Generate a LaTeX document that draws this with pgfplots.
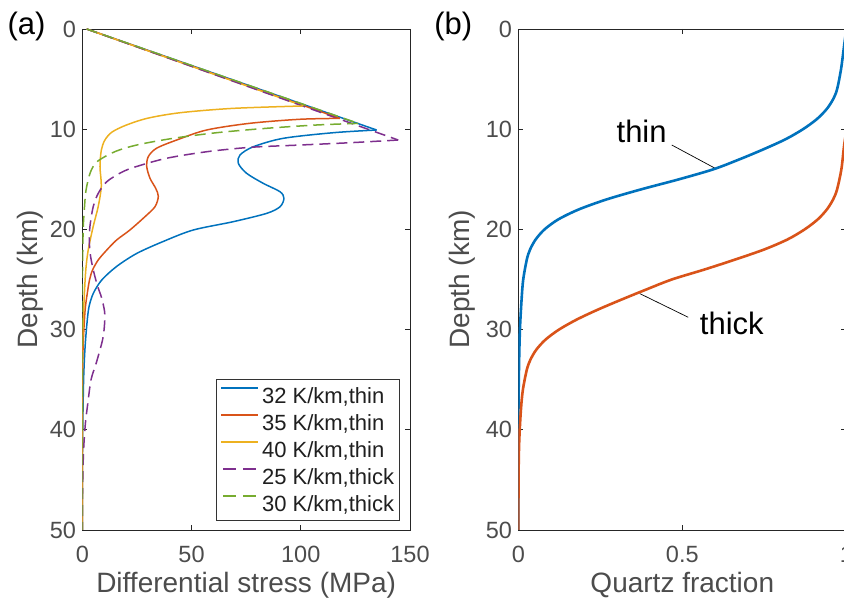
\documentclass[border=0pt]{standalone}
\usepackage{fontspec}
\setmainfont{Liberation Sans}
\usepackage{pgfplots}
\pgfplotsset{compat=1.18}

\definecolor{mblue}{rgb}{0,0.447,0.741}
\definecolor{mred}{rgb}{0.85,0.325,0.098}
\definecolor{myellow}{rgb}{0.929,0.694,0.125}
\definecolor{mpurple}{rgb}{0.494,0.184,0.556}
\definecolor{mgreen}{rgb}{0.466,0.674,0.188}
\definecolor{axgray}{gray}{0.3}

\pgfplotsset{
  panel/.style={
    scale only axis,
    anchor=south west,
    height=501pt,
    y dir=reverse,
    ymin=0, ymax=50,
    ytick={0,10,...,50},
    axis line style={black!85, line width=0.9pt},
    every tick/.style={black!85, line width=0.9pt},
    major tick length=5pt,
    tick align=inside,
    /pgf/number format/assume math mode=true,
    tick label style={font=\fontsize{23.5}{28}\selectfont, text=axgray},
    xticklabel style={anchor=base, yshift=-32.7pt},
    yticklabel style={anchor=east, xshift=-2.8pt},
    label style={font=\fontsize{28}{33}\selectfont, text=axgray},
    xlabel style={at={(axis description cs:0.5,-0.1238)}, anchor=base},
  },
  thin/.style={line width=1.5pt},
  dash/.style={line width=1.5pt, dash pattern=on 11pt off 6pt,
    legend image code/.code={\draw[##1, dash pattern=on 13pt off 7pt] (2pt,7.9pt) -- (35pt,7.9pt);}},
}

\begin{document}
\begin{tikzpicture}
\useasboundingbox (0,0) rectangle (844pt,601pt);
\clip (0,0) rectangle (844pt,601pt);

\begin{axis}[panel,
  at={(82.3pt,71pt)}, width=327.7pt,
  xmin=0, xmax=150, xtick={0,50,100,150},
  xlabel={Differential stress (MPa)},
  ylabel={Depth (km)},
  ylabel style={at={(axis description cs:-0.1596,0.5)}, anchor=center},
  legend cell align=left,
  legend image code/.code={\draw[#1] (0pt,7.9pt) -- (37pt,7.9pt);},
  legend style={at={(1,0)}, anchor=south east, xshift=-10pt, yshift=9.3pt,
    draw=black!80, line width=0.8pt, fill=white, inner sep=4.5pt,
    row sep=3pt, column sep=2pt,
    font=\fontsize{22}{26}\selectfont, text=black!88,
    nodes={inner sep=1pt, text height=19pt, text depth=3pt}},
]
% brittle (linear) part, shared by all curves
\addplot[thin, mblue, forget plot] coordinates {(2,0) (134.7,10.08)};
\addplot[thin, mred, forget plot] coordinates {(2,0) (117.9,8.92)};
\addplot[thin, myellow, forget plot] coordinates {(2,0) (101.2,7.68)};
\addplot[dash, mpurple, forget plot] coordinates {(2,0) (144.6,11.08)};
\addplot[dash, mgreen, forget plot] coordinates {(2,0) (126.3,9.42)};

% ductile part
\addplot[thin, mblue, smooth] coordinates {
  (134.7,10.08) (114.9,10.35) (92.0,10.91) (78.3,11.75) (72.2,12.57)
  (71.4,13.4) (75.2,14.4) (82.8,15.4) (90.5,16.24) (92.3,16.9)
  (90.5,17.74) (84.4,18.4) (69.1,19.23) (50.8,20.06) (37.1,21.2)
  (24.9,22.4) (15.7,23.7) (8.9,25.05) (5.0,26.4) (3.0,27.8) (2.0,29.7)
  (1.2,32) (0.6,35) (0.2,40) (0,45) (0,50)};
\addlegendentry{32 K/km,thin}
\addplot[thin, mred, smooth] coordinates {
  (117.9,8.92) (99.6,9.01) (76.8,9.41) (56.9,10.08) (43.2,11.08)
  (34.0,11.9) (30.2,12.74) (29.5,13.74) (31.0,14.9) (33.6,15.9)
  (34.8,16.7) (33.3,17.73) (28.7,18.73) (21.8,20.06) (15.7,21.06)
  (11.2,22.06) (7.3,23.05) (4.7,24.05) (3.3,25.05) (2.2,26.5) (1.3,28)
  (0.6,30.5) (0.2,33) (0,37) (0,50)};
\addlegendentry{35 K/km,thin}
\addplot[thin, myellow, smooth] coordinates {
  (101.2,7.68) (69.1,7.92) (45,8.35) (30,8.9) (20,9.6) (13.5,10.3)
  (10.3,11.1) (8.7,12.1) (8.1,13.74) (8.7,15.7) (7.3,17.7) (5.0,19.7)
  (2.7,22.06) (1.6,24.05) (0.9,26.7) (0.3,30) (0,34) (0,50)};
\addlegendentry{40 K/km,thin}
\addplot[dash, mpurple, smooth] coordinates {
  (144.6,11.08) (122.5,11.35) (99.6,11.58) (76.8,11.81) (56.9,12.25)
  (38.6,12.9) (24.6,13.74) (18.0,14.3) (11.2,15.24) (7.3,16.4)
  (5.0,17.73) (3.5,19.7) (3.2,21.2) (3.8,22.7) (5.2,24.2) (6.9,25.6)
  (8.8,26.8) (10.2,28.2) (10.2,29.4) (9.3,31) (6.3,33.4) (4.0,35)
  (2.5,37.4) (1.4,39.4) (0.6,42) (0.2,45) (0,48) (0,50)};
\addlegendentry{25 K/km,thick}
\addplot[dash, mgreen, smooth] coordinates {
  (126.3,9.42) (107.3,9.58) (84.4,9.91) (61.5,10.35) (41.6,10.91)
  (25.5,11.55) (15.4,12.2) (7.0,13.2) (3.7,14.3) (1.7,16.1)
  (0.9,18.1) (0.4,20) (0.1,24) (0,28) (0,50)};
\addlegendentry{30 K/km,thick}
\end{axis}

\begin{axis}[panel,
  at={(518.3pt,71pt)}, width=328pt,
  xmin=0, xmax=1, xtick={0,0.5,1},
  xlabel={Quartz fraction},
  ylabel={Depth (km)},
  ylabel style={at={(axis description cs:-0.1701,0.5)}, anchor=center},
]
\draw[black, line width=0.7pt] (axis cs:0.468,11.58) -- (axis cs:0.600,13.9);
\draw[black, line width=0.7pt] (axis cs:0.518,28.77) -- (axis cs:0.370,26.4);
\addplot[line width=2.6pt, mblue, smooth] coordinates {
  (1.0,0) (0.992,2) (0.984,4) (0.972,6) (0.960,7) (0.940,8) (0.910,9)
  (0.868,10) (0.815,11) (0.748,12) (0.675,13) (0.595,14) (0.490,15)
  (0.375,16) (0.270,17) (0.185,18) (0.122,19) (0.080,20) (0.053,21)
  (0.036,22) (0.026,23) (0.015,25) (0.010,27) (0.005,30) (0.002,34)
  (0,40) (0,50)};
\addplot[line width=2.6pt, mred, smooth] coordinates {
  (1.0,10.3) (0.996,11) (0.992,12) (0.985,14) (0.972,16) (0.960,17)
  (0.941,18) (0.913,19) (0.873,20) (0.821,21) (0.750,22) (0.662,23)
  (0.568,24) (0.468,25) (0.390,26) (0.315,27) (0.243,28) (0.178,29)
  (0.124,30) (0.083,31) (0.055,32) (0.037,33) (0.026,34) (0.014,36)
  (0.008,38) (0.003,41) (0.001,44) (0,50)};
\node[font=\fontsize{31}{36}\selectfont] at (axis cs:0.376,10.25) {thin};
\node[font=\fontsize{31}{36}\selectfont] at (axis cs:0.651,29.37) {thick};
\end{axis}

\node[anchor=base, font=\fontsize{31}{36}\selectfont] at (26.5pt,566pt) {(a)};
\node[anchor=base, font=\fontsize{31}{36}\selectfont] at (453.3pt,566pt) {(b)};
\end{tikzpicture}
\end{document}
